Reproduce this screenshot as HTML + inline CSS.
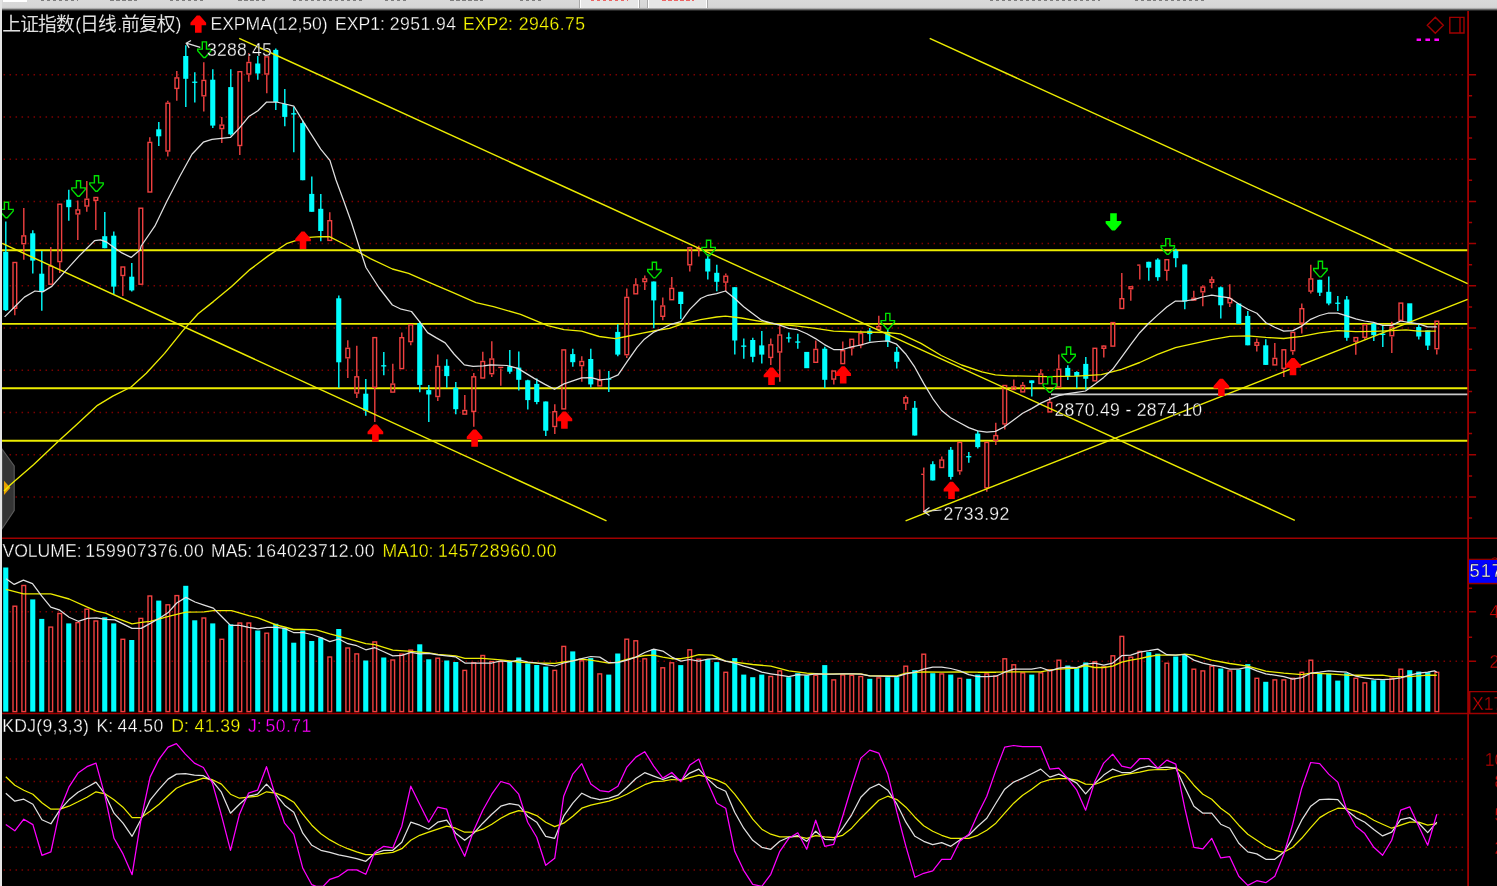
<!DOCTYPE html>
<html><head><meta charset="utf-8"><title>chart</title>
<style>
html,body{margin:0;padding:0;background:#000;}
body{width:1497px;height:886px;overflow:hidden;position:relative;font-family:"Liberation Sans",sans-serif;}
#top{position:absolute;left:0;top:0;width:1497px;height:12px;background:linear-gradient(#DADADA 0px,#D6D6D6 7.4px,#A8A8A8 8.6px,#505050 9.8px,#141414 10.8px,#000 11.4px);}
#top b{position:absolute;top:0;height:7.6px;background:#E6E6E6;border-left:1.3px solid #fff;border-right:1.3px solid #fff;box-shadow:-1px 0 0 #aaa,1px 0 0 #aaa}
#top i{position:absolute;top:0;height:1.4px;opacity:.8}
#left{position:absolute;left:0;top:0;width:2px;height:886px;background:#E4E4E4;}
</style></head><body>
<div id="top">
<span style="position:absolute;left:3px;top:0;width:24px;height:1.6px;background:#fff"></span>
<b style="left:580px;width:57px"></b><b style="left:647.5px;width:57px"></b>
<i style="left:41px;width:37px;background:repeating-linear-gradient(90deg,#666 0 3.5px,transparent 3.5px 6px)"></i><i style="left:110px;width:30px;background:repeating-linear-gradient(90deg,#666 0 3.5px,transparent 3.5px 6px)"></i><i style="left:170px;width:35px;background:repeating-linear-gradient(90deg,#666 0 3.5px,transparent 3.5px 6px)"></i><i style="left:238px;width:27px;background:repeating-linear-gradient(90deg,#666 0 3.5px,transparent 3.5px 6px)"></i><i style="left:293px;width:70px;background:repeating-linear-gradient(90deg,#666 0 3.5px,transparent 3.5px 6px)"></i><i style="left:385px;width:23px;background:repeating-linear-gradient(90deg,#666 0 3.5px,transparent 3.5px 6px)"></i><i style="left:450px;width:33px;background:repeating-linear-gradient(90deg,#666 0 3.5px,transparent 3.5px 6px)"></i><i style="left:520px;width:23px;background:repeating-linear-gradient(90deg,#666 0 3.5px,transparent 3.5px 6px)"></i><i style="left:591px;width:37px;background:repeating-linear-gradient(90deg,#e44 0 3.5px,transparent 3.5px 6px)"></i><i style="left:662px;width:32px;background:repeating-linear-gradient(90deg,#e44 0 3.5px,transparent 3.5px 6px)"></i><i style="left:990px;width:110px;background:repeating-linear-gradient(90deg,#666 0 3.5px,transparent 3.5px 6px)"></i><i style="left:1135px;width:70px;background:repeating-linear-gradient(90deg,#666 0 3.5px,transparent 3.5px 6px)"></i>
</div>
<svg width="1497" height="886" viewBox="0 0 1497 886" style="position:absolute;left:0;top:0;will-change:transform">
<g stroke="#7C0000" stroke-width="1.5" stroke-dasharray="1.5 4.5" fill="none">
<path d="M3.55 74.7 H1464"/>
<path d="M3.55 116.9 H1464"/>
<path d="M3.55 159.2 H1464"/>
<path d="M3.55 201.4 H1464"/>
<path d="M3.55 243.6 H1464"/>
<path d="M3.55 285.8 H1464"/>
<path d="M3.55 328.1 H1464"/>
<path d="M3.55 370.3 H1464"/>
<path d="M3.55 412.5 H1464"/>
<path d="M3.55 454.8 H1464"/>
<path d="M3.55 497 H1464"/>
<path d="M3.55 611.8 H1464"/>
<path d="M3.55 661.3 H1464"/>
<path d="M3.55 759.1 H1464"/>
<path d="M3.55 781.5 H1464"/>
<path d="M3.55 814.6 H1464"/>
<path d="M3.55 847.3 H1464"/>
<path d="M3.55 869.9 H1464"/>
</g>
<rect x="1053.5" y="401.5" width="150.5" height="17.5" fill="#000"/>
<g stroke="#A00000" fill="none">
<path d="M1468.1 11 V886" stroke-width="1.8"/>
<path d="M2 538.3 H1497 M2 713.6 H1497" stroke-width="1.5"/>
<path d="M1468.1 74.7 h8 M1468.1 95.8 h4 M1468.1 116.9 h8 M1468.1 138 h4 M1468.1 159.2 h8 M1468.1 180.3 h4 M1468.1 201.4 h8 M1468.1 222.5 h4 M1468.1 243.6 h8 M1468.1 264.7 h4 M1468.1 285.8 h8 M1468.1 306.9 h4 M1468.1 328.1 h8 M1468.1 349.2 h4 M1468.1 370.3 h8 M1468.1 391.4 h4 M1468.1 412.5 h8 M1468.1 433.6 h4 M1468.1 454.8 h8 M1468.1 475.9 h4 M1468.1 497 h8 M1468.1 518.1 h4 M1468.1 611.8 h8 M1468.1 661.3 h8 M1468.1 588.2 h4 M1468.1 637.3 h4" stroke-width="1.5"/>
<path d="M1435.3 17.2 L1443.3 25.2 L1435.3 33.2 L1427.3 25.2 Z M1449.8 17.4 H1464 V33 H1449.8 Z M1460 17.4 V33" stroke-width="1.4"/>
<path d="M1497 691.6 H1469.7 V713" stroke-width="1.4"/>
</g>
<path d="M1416.6 39.7 h4.4 m4.4 0 h4.6 m4.4 0 h4.6" stroke="#FF00FF" stroke-width="2.6" fill="none"/>
<path d="M2 449 L14.2 466 V510.5 L2 529 Z" fill="#343434" stroke="#5C5C5C" stroke-width="1.1"/>
<path d="M4 480.8 L10.4 487.8 L4 495 Z" fill="#E8A000"/>
<g stroke="#ECEC00" stroke-width="1.9" fill="none">
<path d="M2 250.2 H1467.3"/>
<path d="M2 323.9 H1467.3"/>
<path d="M2 388.3 H1467.3"/>
<path d="M2 440.8 H1467.3"/>
</g>
<path d="M1051 394.4 H1467.3" stroke="#C8C8C8" stroke-width="1.7" fill="none"/>
<g fill="none"><path d="M5.8 221.6 V311" stroke="#00FFFF" stroke-width="1.4"/><rect x="3.2" y="251.9" width="5.1" height="58.3" fill="#00FFFF"/><path d="M14.8 309 V315.2" stroke="#F04040" stroke-width="1.4"/><rect x="13" y="262.5" width="3.7" height="45.8" fill="none" stroke="#F04040" stroke-width="1.4"/><path d="M23.8 207.9 V235.2M23.8 244.4 V259.8" stroke="#F04040" stroke-width="1.4"/><rect x="21.9" y="235.9" width="3.7" height="7.8" fill="none" stroke="#F04040" stroke-width="1.4"/><path d="M32.8 230.3 V273.5" stroke="#00FFFF" stroke-width="1.4"/><rect x="30.2" y="233.3" width="5.1" height="27.3" fill="#00FFFF"/><path d="M41.8 251.1 V310.7" stroke="#00FFFF" stroke-width="1.4"/><rect x="39.2" y="273.7" width="5.1" height="17.9" fill="#00FFFF"/><path d="M50.8 246.9 V265.5" stroke="#F04040" stroke-width="1.4"/><rect x="48.9" y="266.2" width="3.7" height="18" fill="none" stroke="#F04040" stroke-width="1.4"/><path d="M59.8 262.3 V273" stroke="#F04040" stroke-width="1.4"/><rect x="57.9" y="204.2" width="3.7" height="57.4" fill="none" stroke="#F04040" stroke-width="1.4"/><path d="M68.8 189.8 V220.8" stroke="#00FFFF" stroke-width="1.4"/><rect x="66.2" y="199.7" width="5.1" height="7.5" fill="#00FFFF"/><path d="M77.8 200.5 V209.2M77.8 214.6 V240" stroke="#F04040" stroke-width="1.4"/><rect x="76" y="209.9" width="3.7" height="4" fill="none" stroke="#F04040" stroke-width="1.4"/><path d="M86.8 181.1 V198.5M86.8 206.7 V211.7" stroke="#F04040" stroke-width="1.4"/><rect x="85" y="199.2" width="3.7" height="6.8" fill="none" stroke="#F04040" stroke-width="1.4"/><path d="M95.8 201 V230" stroke="#F04040" stroke-width="1.4"/><rect x="94" y="197.5" width="3.7" height="2.8" fill="none" stroke="#F04040" stroke-width="1.4"/><path d="M104.8 212.1 V248.2" stroke="#00FFFF" stroke-width="1.4"/><rect x="102.2" y="236.2" width="5.1" height="12" fill="#00FFFF"/><path d="M113.8 231.5 V294.1" stroke="#00FFFF" stroke-width="1.4"/><rect x="111.2" y="235.7" width="5.1" height="50.9" fill="#00FFFF"/><path d="M122.8 276.2 V296.1" stroke="#F04040" stroke-width="1.4"/><rect x="121" y="267" width="3.7" height="8.5" fill="none" stroke="#F04040" stroke-width="1.4"/><path d="M131.8 263.1 V291.6" stroke="#00FFFF" stroke-width="1.4"/><rect x="129.2" y="276.7" width="5.1" height="13.7" fill="#00FFFF"/><rect x="139" y="208.2" width="3.7" height="76" fill="none" stroke="#F04040" stroke-width="1.4"/><path d="M149.8 137.3 V141.7" stroke="#F04040" stroke-width="1.4"/><rect x="148" y="142.4" width="3.7" height="49.6" fill="none" stroke="#F04040" stroke-width="1.4"/><path d="M158.8 121.9 V146" stroke="#00FFFF" stroke-width="1.4"/><rect x="156.2" y="129.3" width="5.1" height="7" fill="#00FFFF"/><path d="M167.8 100.8 V102.5M167.8 151.7 V156.6" stroke="#F04040" stroke-width="1.4"/><rect x="166" y="103.2" width="3.7" height="47.8" fill="none" stroke="#F04040" stroke-width="1.4"/><path d="M176.8 71 V77.2M176.8 89.1 V100.8" stroke="#F04040" stroke-width="1.4"/><rect x="175" y="77.9" width="3.7" height="10.5" fill="none" stroke="#F04040" stroke-width="1.4"/><path d="M185.8 45.3 V107" stroke="#00FFFF" stroke-width="1.4"/><rect x="183.2" y="56" width="5.1" height="22.8" fill="#00FFFF"/><path d="M194.8 72.2 V102.5" stroke="#00FFFF" stroke-width="1.4"/><rect x="192.2" y="81.6" width="5.1" height="1.3" fill="#00FFFF"/><path d="M203.8 62.3 V79.7M203.8 96.5 V111.4" stroke="#F04040" stroke-width="1.4"/><rect x="202" y="80.4" width="3.7" height="15.4" fill="none" stroke="#F04040" stroke-width="1.4"/><path d="M212.8 69.2 V128.1" stroke="#00FFFF" stroke-width="1.4"/><rect x="210.2" y="79.7" width="5.1" height="45.9" fill="#00FFFF"/><path d="M221.8 116.9 V124.4M221.8 129.3 V143" stroke="#F04040" stroke-width="1.4"/><rect x="220" y="125.1" width="3.7" height="3.5" fill="none" stroke="#F04040" stroke-width="1.4"/><path d="M230.8 69.2 V135.5" stroke="#00FFFF" stroke-width="1.4"/><rect x="228.2" y="87.1" width="5.1" height="47.2" fill="#00FFFF"/><path d="M239.8 146.2 V154.9" stroke="#F04040" stroke-width="1.4"/><rect x="238" y="71.7" width="3.7" height="73.8" fill="none" stroke="#F04040" stroke-width="1.4"/><path d="M248.8 53.1 V61.8M248.8 74.7 V81.7" stroke="#F04040" stroke-width="1.4"/><rect x="247" y="62.5" width="3.7" height="11.5" fill="none" stroke="#F04040" stroke-width="1.4"/><path d="M257.8 56.1 V79.7" stroke="#00FFFF" stroke-width="1.4"/><rect x="255.2" y="63.5" width="5.1" height="10" fill="#00FFFF"/><path d="M266.8 54.8 V56.1M266.8 74.7 V93.3" stroke="#F04040" stroke-width="1.4"/><rect x="264.9" y="56.8" width="3.7" height="17.2" fill="none" stroke="#F04040" stroke-width="1.4"/><path d="M275.8 48.6 V110" stroke="#00FFFF" stroke-width="1.4"/><rect x="273.2" y="49.9" width="5.1" height="52.1" fill="#00FFFF"/><path d="M284.8 89.1 V126.3" stroke="#00FFFF" stroke-width="1.4"/><rect x="282.2" y="104" width="5.1" height="12.9" fill="#00FFFF"/><path d="M293.8 107 V152.2" stroke="#00FFFF" stroke-width="1.4"/><rect x="291.2" y="113.2" width="5.1" height="1.3" fill="#00FFFF"/><path d="M302.8 120.6 V180.2" stroke="#00FFFF" stroke-width="1.4"/><rect x="300.2" y="123.1" width="5.1" height="57.1" fill="#00FFFF"/><path d="M311.8 176.5 V211.8" stroke="#00FFFF" stroke-width="1.4"/><rect x="309.2" y="193.9" width="5.1" height="17.9" fill="#00FFFF"/><path d="M320.8 193.9 V241.3" stroke="#00FFFF" stroke-width="1.4"/><rect x="318.2" y="208.8" width="5.1" height="22.2" fill="#00FFFF"/><path d="M329.8 212.3 V220" stroke="#F04040" stroke-width="1.4"/><rect x="327.9" y="220.7" width="3.7" height="19.7" fill="none" stroke="#F04040" stroke-width="1.4"/><path d="M338.8 295.4 V387.8" stroke="#00FFFF" stroke-width="1.4"/><rect x="336.2" y="298.3" width="5.1" height="64" fill="#00FFFF"/><path d="M347.8 340.3 V347.6M347.8 358.5 V378.1" stroke="#F04040" stroke-width="1.4"/><rect x="345.9" y="348.3" width="3.7" height="9.5" fill="none" stroke="#F04040" stroke-width="1.4"/><path d="M356.8 345.8 V376.1M356.8 393.7 V398.1" stroke="#F04040" stroke-width="1.4"/><rect x="354.9" y="376.8" width="3.7" height="16.2" fill="none" stroke="#F04040" stroke-width="1.4"/><path d="M365.8 379 V415.7" stroke="#00FFFF" stroke-width="1.4"/><rect x="363.2" y="393.7" width="5.1" height="17" fill="#00FFFF"/><path d="M374.8 388 V422" stroke="#F04040" stroke-width="1.4"/><rect x="372.9" y="337.6" width="3.7" height="49.7" fill="none" stroke="#F04040" stroke-width="1.4"/><path d="M383.8 352 V375.2" stroke="#00FFFF" stroke-width="1.4"/><rect x="381.2" y="365.2" width="5.1" height="1.3" fill="#00FFFF"/><path d="M392.8 363.7 V383.4" stroke="#F04040" stroke-width="1.4"/><rect x="390.9" y="384.1" width="3.7" height="8" fill="none" stroke="#F04040" stroke-width="1.4"/><path d="M401.8 332.6 V337" stroke="#F04040" stroke-width="1.4"/><rect x="399.9" y="337.7" width="3.7" height="30.9" fill="none" stroke="#F04040" stroke-width="1.4"/><path d="M410.8 342.3 V345.2" stroke="#F04040" stroke-width="1.4"/><rect x="408.9" y="324.8" width="3.7" height="16.8" fill="none" stroke="#F04040" stroke-width="1.4"/><path d="M419.8 321.2 V392.2" stroke="#00FFFF" stroke-width="1.4"/><rect x="417.2" y="323.2" width="5.1" height="61.7" fill="#00FFFF"/><path d="M428.8 384.9 V422.1" stroke="#00FFFF" stroke-width="1.4"/><rect x="426.2" y="390.1" width="5.1" height="4.4" fill="#00FFFF"/><path d="M437.8 354.6 V365.8M437.8 397.2 V401" stroke="#F04040" stroke-width="1.4"/><rect x="435.9" y="366.5" width="3.7" height="30" fill="none" stroke="#F04040" stroke-width="1.4"/><path d="M446.8 359.3 V387.8" stroke="#00FFFF" stroke-width="1.4"/><rect x="444.2" y="365.8" width="5.1" height="10.3" fill="#00FFFF"/><path d="M455.8 381.9 V414.2" stroke="#00FFFF" stroke-width="1.4"/><rect x="453.2" y="387.8" width="5.1" height="21.4" fill="#00FFFF"/><path d="M464.8 395.1 V409.8" stroke="#F04040" stroke-width="1.4"/><rect x="462.9" y="410.5" width="3.7" height="3.6" fill="none" stroke="#F04040" stroke-width="1.4"/><path d="M473.8 373.1 V376.1M473.8 412.1 V426.8" stroke="#F04040" stroke-width="1.4"/><rect x="471.9" y="376.8" width="3.7" height="34.6" fill="none" stroke="#F04040" stroke-width="1.4"/><path d="M482.8 351.7 V360.8" stroke="#F04040" stroke-width="1.4"/><rect x="480.9" y="361.5" width="3.7" height="16.5" fill="none" stroke="#F04040" stroke-width="1.4"/><path d="M491.8 341.3 V358.3M491.8 374.4 V377" stroke="#F04040" stroke-width="1.4"/><rect x="489.9" y="359" width="3.7" height="14.7" fill="none" stroke="#F04040" stroke-width="1.4"/><path d="M500.8 368.4 V385.8" stroke="#F04040" stroke-width="1.4"/><path d="M498.2 367.4 h5.1" stroke="#F04040" stroke-width="1.4"/><path d="M509.8 350 V373.8" stroke="#00FFFF" stroke-width="1.4"/><rect x="507.2" y="366.3" width="5.1" height="5.4" fill="#00FFFF"/><path d="M518.8 351.4 V390.6" stroke="#00FFFF" stroke-width="1.4"/><rect x="516.2" y="367.6" width="5.1" height="12.2" fill="#00FFFF"/><path d="M527.8 379.8 V409.6" stroke="#00FFFF" stroke-width="1.4"/><rect x="525.2" y="380.3" width="5.1" height="19.8" fill="#00FFFF"/><path d="M536.8 378.4 V404.2" stroke="#00FFFF" stroke-width="1.4"/><rect x="534.2" y="383.9" width="5.1" height="18.1" fill="#00FFFF"/><path d="M545.8 401.5 V435.9" stroke="#00FFFF" stroke-width="1.4"/><rect x="543.2" y="401.5" width="5.1" height="29.2" fill="#00FFFF"/><path d="M554.8 404.2 V411M554.8 427.2 V434" stroke="#F04040" stroke-width="1.4"/><rect x="552.9" y="411.7" width="3.7" height="14.8" fill="none" stroke="#F04040" stroke-width="1.4"/><rect x="561.9" y="349.9" width="3.7" height="59" fill="none" stroke="#F04040" stroke-width="1.4"/><path d="M572.8 348.7 V366.8" stroke="#00FFFF" stroke-width="1.4"/><rect x="570.2" y="354.1" width="5.1" height="8.1" fill="#00FFFF"/><path d="M581.8 356.2 V360.8M581.8 366.3 V381.7" stroke="#F04040" stroke-width="1.4"/><rect x="579.9" y="361.5" width="3.7" height="4.1" fill="none" stroke="#F04040" stroke-width="1.4"/><path d="M590.8 348.7 V387.4" stroke="#00FFFF" stroke-width="1.4"/><rect x="588.2" y="359" width="5.1" height="25.4" fill="#00FFFF"/><path d="M599.8 369.5 V379.8" stroke="#F04040" stroke-width="1.4"/><rect x="597.9" y="380.5" width="3.7" height="5.4" fill="none" stroke="#F04040" stroke-width="1.4"/><path d="M608.8 371.1 V392" stroke="#00FFFF" stroke-width="1.4"/><rect x="606.2" y="378.5" width="5.1" height="1.3" fill="#00FFFF"/><path d="M617.8 324.3 V356.2" stroke="#00FFFF" stroke-width="1.4"/><rect x="615.2" y="331.9" width="5.1" height="22.7" fill="#00FFFF"/><path d="M626.8 288.5 V296.7M626.8 355.4 V358.1" stroke="#F04040" stroke-width="1.4"/><rect x="624.9" y="297.4" width="3.7" height="57.3" fill="none" stroke="#F04040" stroke-width="1.4"/><path d="M635.8 278.2 V284.2" stroke="#F04040" stroke-width="1.4"/><rect x="633.9" y="284.9" width="3.7" height="8.9" fill="none" stroke="#F04040" stroke-width="1.4"/><path d="M644.8 275.5 V278.2M644.8 282.3 V289.9" stroke="#F04040" stroke-width="1.4"/><rect x="642.9" y="278.9" width="3.7" height="2.7" fill="none" stroke="#F04040" stroke-width="1.4"/><path d="M653.8 281.5 V328.3" stroke="#00FFFF" stroke-width="1.4"/><rect x="651.2" y="281.5" width="5.1" height="18.9" fill="#00FFFF"/><path d="M662.8 297.6 V305.3M662.8 317 V320.2" stroke="#F04040" stroke-width="1.4"/><rect x="660.9" y="306" width="3.7" height="10.3" fill="none" stroke="#F04040" stroke-width="1.4"/><path d="M671.8 276.9 V287.7" stroke="#F04040" stroke-width="1.4"/><rect x="669.9" y="288.4" width="3.7" height="11.3" fill="none" stroke="#F04040" stroke-width="1.4"/><path d="M680.8 291.8 V318.9" stroke="#00FFFF" stroke-width="1.4"/><rect x="678.2" y="291.8" width="5.1" height="12.2" fill="#00FFFF"/><path d="M689.8 265.5 V271.5" stroke="#F04040" stroke-width="1.4"/><rect x="687.9" y="247.8" width="3.7" height="17" fill="none" stroke="#F04040" stroke-width="1.4"/><path d="M698.8 245.7 V247.9M698.8 249.1 V256.6" stroke="#F04040" stroke-width="1.4"/><path d="M696.2 248.5 h5.1" stroke="#F04040" stroke-width="1.4"/><path d="M707.8 253.9 V279.6" stroke="#00FFFF" stroke-width="1.4"/><rect x="705.2" y="258.7" width="5.1" height="12.8" fill="#00FFFF"/><path d="M716.8 264.7 V291.2" stroke="#00FFFF" stroke-width="1.4"/><rect x="714.2" y="272.8" width="5.1" height="9" fill="#00FFFF"/><path d="M725.8 273.6 V275.5M725.8 282.8 V291" stroke="#F04040" stroke-width="1.4"/><rect x="723.9" y="276.2" width="3.7" height="5.9" fill="none" stroke="#F04040" stroke-width="1.4"/><path d="M734.8 287.2 V354.6" stroke="#00FFFF" stroke-width="1.4"/><rect x="732.2" y="287.2" width="5.1" height="53.3" fill="#00FFFF"/><path d="M743.8 338.4 V358.7" stroke="#00FFFF" stroke-width="1.4"/><rect x="741.2" y="345.5" width="5.1" height="1.3" fill="#00FFFF"/><path d="M752.8 337.8 V362.2" stroke="#00FFFF" stroke-width="1.4"/><rect x="750.2" y="340" width="5.1" height="16.8" fill="#00FFFF"/><path d="M761.8 331.1 V363.6" stroke="#00FFFF" stroke-width="1.4"/><rect x="759.2" y="345.4" width="5.1" height="9.2" fill="#00FFFF"/><path d="M770.8 338.4 V344.1M770.8 358.1 V364.9" stroke="#F04040" stroke-width="1.4"/><rect x="768.9" y="344.8" width="3.7" height="12.6" fill="none" stroke="#F04040" stroke-width="1.4"/><path d="M779.8 325.6 V334.3M779.8 352.7 V381.7" stroke="#F04040" stroke-width="1.4"/><rect x="777.9" y="335" width="3.7" height="17" fill="none" stroke="#F04040" stroke-width="1.4"/><path d="M788.8 332.4 V342.4" stroke="#00FFFF" stroke-width="1.4"/><rect x="786.2" y="337.3" width="5.1" height="1.3" fill="#00FFFF"/><path d="M797.8 333.8 V348.7" stroke="#00FFFF" stroke-width="1.4"/><rect x="795.2" y="341.4" width="5.1" height="1.3" fill="#00FFFF"/><rect x="804.2" y="351.9" width="5.1" height="16.3" fill="#00FFFF"/><path d="M815.8 340.5 V348.7" stroke="#F04040" stroke-width="1.4"/><rect x="813.9" y="349.4" width="3.7" height="12.9" fill="none" stroke="#F04040" stroke-width="1.4"/><path d="M824.8 346.8 V387.9" stroke="#00FFFF" stroke-width="1.4"/><rect x="822.2" y="348.7" width="5.1" height="31.1" fill="#00FFFF"/><path d="M833.8 379.8 V384.4" stroke="#F04040" stroke-width="1.4"/><rect x="831.9" y="371" width="3.7" height="8.1" fill="none" stroke="#F04040" stroke-width="1.4"/><path d="M842.8 341.4 V350" stroke="#F04040" stroke-width="1.4"/><rect x="840.9" y="350.7" width="3.7" height="12.9" fill="none" stroke="#F04040" stroke-width="1.4"/><path d="M851.8 348.5 V355.6" stroke="#F04040" stroke-width="1.4"/><rect x="849.9" y="339.3" width="3.7" height="8.5" fill="none" stroke="#F04040" stroke-width="1.4"/><path d="M860.8 330.6 V332.8M860.8 345.5 V348.2" stroke="#F04040" stroke-width="1.4"/><rect x="858.9" y="333.5" width="3.7" height="11.3" fill="none" stroke="#F04040" stroke-width="1.4"/><path d="M869.8 327.9 V341.5" stroke="#00FFFF" stroke-width="1.4"/><rect x="867.2" y="330.6" width="5.1" height="3.5" fill="#00FFFF"/><path d="M878.8 315.7 V326" stroke="#F04040" stroke-width="1.4"/><rect x="876.9" y="326.7" width="3.7" height="2.6" fill="none" stroke="#F04040" stroke-width="1.4"/><path d="M887.8 329.3 V346.9" stroke="#00FFFF" stroke-width="1.4"/><rect x="885.2" y="333.3" width="5.1" height="8.2" fill="#00FFFF"/><path d="M896.8 346.9 V368.5" stroke="#00FFFF" stroke-width="1.4"/><rect x="894.2" y="351.8" width="5.1" height="10" fill="#00FFFF"/><path d="M905.8 395.6 V397M905.8 403.8 V410" stroke="#F04040" stroke-width="1.4"/><rect x="903.9" y="397.7" width="3.7" height="5.4" fill="none" stroke="#F04040" stroke-width="1.4"/><path d="M914.8 401 V435.5" stroke="#00FFFF" stroke-width="1.4"/><rect x="912.2" y="407.8" width="5.1" height="27.7" fill="#00FFFF"/><path d="M923.8 467.4 V473.7M923.8 474.9 V512.6" stroke="#F04040" stroke-width="1.4"/><path d="M921.2 474.3 h3.2" stroke="#F04040" stroke-width="1.4"/><path d="M932.8 461.2 V480.4" stroke="#00FFFF" stroke-width="1.4"/><rect x="930.2" y="464.2" width="5.1" height="16.2" fill="#00FFFF"/><path d="M941.8 456.6 V459.3" stroke="#F04040" stroke-width="1.4"/><rect x="939.9" y="460" width="3.7" height="7.5" fill="none" stroke="#F04040" stroke-width="1.4"/><path d="M950.8 447.1 V479.6" stroke="#00FFFF" stroke-width="1.4"/><rect x="948.2" y="449.8" width="5.1" height="27.1" fill="#00FFFF"/><path d="M959.8 471.5 V474.7" stroke="#F04040" stroke-width="1.4"/><rect x="957.9" y="442.4" width="3.7" height="28.4" fill="none" stroke="#F04040" stroke-width="1.4"/><path d="M968.8 452 V462.8" stroke="#00FFFF" stroke-width="1.4"/><rect x="966.2" y="456.1" width="5.1" height="1.3" fill="#00FFFF"/><path d="M977.8 430.8 V448.4" stroke="#00FFFF" stroke-width="1.4"/><rect x="975.2" y="433.6" width="5.1" height="13.5" fill="#00FFFF"/><path d="M986.8 488.5 V491.8" stroke="#F04040" stroke-width="1.4"/><rect x="984.9" y="442.4" width="3.7" height="45.4" fill="none" stroke="#F04040" stroke-width="1.4"/><path d="M995.8 422.7 V434.9M995.8 441.1 V444.9" stroke="#F04040" stroke-width="1.4"/><rect x="993.9" y="435.6" width="3.7" height="4.8" fill="none" stroke="#F04040" stroke-width="1.4"/><path d="M1004.8 424.6 V429.5" stroke="#F04040" stroke-width="1.4"/><rect x="1002.9" y="385.5" width="3.7" height="38.4" fill="none" stroke="#F04040" stroke-width="1.4"/><path d="M1013.8 379.4 V386.2" stroke="#F04040" stroke-width="1.4"/><rect x="1011.9" y="386.9" width="3.7" height="2.6" fill="none" stroke="#F04040" stroke-width="1.4"/><path d="M1022.8 382.1 V384.8" stroke="#F04040" stroke-width="1.4"/><rect x="1020.9" y="385.5" width="3.7" height="6.4" fill="none" stroke="#F04040" stroke-width="1.4"/><path d="M1031.8 380.4 V396.4" stroke="#00FFFF" stroke-width="1.4"/><rect x="1029.2" y="380.4" width="5.1" height="2.7" fill="#00FFFF"/><path d="M1040.8 369.3 V373.3" stroke="#F04040" stroke-width="1.4"/><rect x="1039" y="374" width="3.7" height="9.5" fill="none" stroke="#F04040" stroke-width="1.4"/><path d="M1049.8 397.2 V401.8" stroke="#F04040" stroke-width="1.4"/><rect x="1048" y="402.5" width="3.7" height="9.4" fill="none" stroke="#F04040" stroke-width="1.4"/><path d="M1058.8 354.4 V368.5" stroke="#F04040" stroke-width="1.4"/><rect x="1057" y="369.2" width="3.7" height="17.8" fill="none" stroke="#F04040" stroke-width="1.4"/><path d="M1067.8 365.2 V380.1" stroke="#00FFFF" stroke-width="1.4"/><rect x="1065.2" y="367.9" width="5.1" height="8.2" fill="#00FFFF"/><path d="M1076.8 371.2 V388.2" stroke="#00FFFF" stroke-width="1.4"/><rect x="1074.2" y="372" width="5.1" height="4.1" fill="#00FFFF"/><path d="M1085.8 357.1 V389.6" stroke="#00FFFF" stroke-width="1.4"/><rect x="1083.2" y="363.9" width="5.1" height="14.9" fill="#00FFFF"/><rect x="1093" y="348.3" width="3.7" height="32.5" fill="none" stroke="#F04040" stroke-width="1.4"/><path d="M1103.8 344.9 V345.4M1103.8 349 V357.6" stroke="#F04040" stroke-width="1.4"/><rect x="1102" y="346.1" width="3.7" height="2.2" fill="none" stroke="#F04040" stroke-width="1.4"/><rect x="1111" y="322.6" width="3.7" height="23.5" fill="none" stroke="#F04040" stroke-width="1.4"/><path d="M1121.8 273.1 V298" stroke="#F04040" stroke-width="1.4"/><rect x="1120" y="298.7" width="3.7" height="9.8" fill="none" stroke="#F04040" stroke-width="1.4"/><path d="M1130.8 289.4 V300.8" stroke="#F04040" stroke-width="1.4"/><rect x="1129" y="286.8" width="3.7" height="1.9" fill="none" stroke="#F04040" stroke-width="1.4"/><path d="M1139.8 265.7 V279.4" stroke="#F04040" stroke-width="1.4"/><path d="M1137.2 265.1 h3.2" stroke="#F04040" stroke-width="1.4"/><path d="M1148.8 261.8 V280.7" stroke="#00FFFF" stroke-width="1.4"/><rect x="1146.2" y="261.8" width="5.1" height="5.9" fill="#00FFFF"/><path d="M1157.8 258.2 V280.7" stroke="#00FFFF" stroke-width="1.4"/><rect x="1155.2" y="259.6" width="5.1" height="17.6" fill="#00FFFF"/><path d="M1166.8 271 V280.7" stroke="#F04040" stroke-width="1.4"/><rect x="1165" y="259.7" width="3.7" height="10.6" fill="none" stroke="#F04040" stroke-width="1.4"/><path d="M1175.8 248.8 V267.2" stroke="#00FFFF" stroke-width="1.4"/><rect x="1173.2" y="250.9" width="5.1" height="7.3" fill="#00FFFF"/><path d="M1184.8 264.5 V309.2" stroke="#00FFFF" stroke-width="1.4"/><rect x="1182.2" y="264.5" width="5.1" height="37.1" fill="#00FFFF"/><path d="M1193.8 290.7 V297.5" stroke="#F04040" stroke-width="1.4"/><rect x="1192" y="298.2" width="3.7" height="1.9" fill="none" stroke="#F04040" stroke-width="1.4"/><path d="M1202.8 285.3 V286.4M1202.8 292.5 V306.2" stroke="#F04040" stroke-width="1.4"/><rect x="1201" y="287.1" width="3.7" height="4.7" fill="none" stroke="#F04040" stroke-width="1.4"/><path d="M1211.8 276.5 V279.1M1211.8 283 V288.2" stroke="#F04040" stroke-width="1.4"/><rect x="1210" y="279.8" width="3.7" height="2.5" fill="none" stroke="#F04040" stroke-width="1.4"/><path d="M1220.8 286.6 V318.6" stroke="#00FFFF" stroke-width="1.4"/><rect x="1218.2" y="287.3" width="5.1" height="18" fill="#00FFFF"/><path d="M1229.8 284.3 V297.9M1229.8 303.5 V306.9" stroke="#F04040" stroke-width="1.4"/><rect x="1228" y="298.6" width="3.7" height="4.2" fill="none" stroke="#F04040" stroke-width="1.4"/><rect x="1236.2" y="303.5" width="5.1" height="20.3" fill="#00FFFF"/><path d="M1247.8 311 V345.3" stroke="#00FFFF" stroke-width="1.4"/><rect x="1245.2" y="315.9" width="5.1" height="29.4" fill="#00FFFF"/><path d="M1256.8 338.5 V341.9M1256.8 346 V351.6" stroke="#F04040" stroke-width="1.4"/><rect x="1255" y="342.6" width="3.7" height="2.7" fill="none" stroke="#F04040" stroke-width="1.4"/><path d="M1265.8 339.2 V364.9" stroke="#00FFFF" stroke-width="1.4"/><rect x="1263.2" y="345.3" width="5.1" height="19.6" fill="#00FFFF"/><path d="M1274.8 343 V357.7" stroke="#F04040" stroke-width="1.4"/><rect x="1273" y="358.4" width="3.7" height="6.5" fill="none" stroke="#F04040" stroke-width="1.4"/><path d="M1283.8 369 V376.9" stroke="#F04040" stroke-width="1.4"/><rect x="1282" y="349.8" width="3.7" height="18.5" fill="none" stroke="#F04040" stroke-width="1.4"/><path d="M1292.8 351.4 V354.8" stroke="#F04040" stroke-width="1.4"/><rect x="1291" y="332.4" width="3.7" height="18.3" fill="none" stroke="#F04040" stroke-width="1.4"/><path d="M1301.8 303.5 V308M1301.8 323.8 V333.5" stroke="#F04040" stroke-width="1.4"/><rect x="1300" y="308.7" width="3.7" height="14.4" fill="none" stroke="#F04040" stroke-width="1.4"/><path d="M1310.8 264.7 V278.2M1310.8 291.8 V293.4" stroke="#F04040" stroke-width="1.4"/><rect x="1309" y="278.9" width="3.7" height="12.2" fill="none" stroke="#F04040" stroke-width="1.4"/><path d="M1319.8 279.8 V296.1" stroke="#00FFFF" stroke-width="1.4"/><rect x="1317.2" y="279.8" width="5.1" height="12.9" fill="#00FFFF"/><path d="M1328.8 276.4 V305.3" stroke="#00FFFF" stroke-width="1.4"/><rect x="1326.2" y="291.8" width="5.1" height="11.7" fill="#00FFFF"/><path d="M1337.8 296.1 V311" stroke="#00FFFF" stroke-width="1.4"/><rect x="1335.2" y="302.6" width="5.1" height="1.3" fill="#00FFFF"/><path d="M1346.8 296.1 V340.8" stroke="#00FFFF" stroke-width="1.4"/><rect x="1344.2" y="299.5" width="5.1" height="38.3" fill="#00FFFF"/><path d="M1355.8 341.9 V354.8" stroke="#F04040" stroke-width="1.4"/><rect x="1354" y="337.6" width="3.7" height="3.6" fill="none" stroke="#F04040" stroke-width="1.4"/><path d="M1364.8 338 V339.4" stroke="#F04040" stroke-width="1.4"/><rect x="1363" y="324.7" width="3.7" height="12.6" fill="none" stroke="#F04040" stroke-width="1.4"/><path d="M1373.8 322.7 V340.9" stroke="#00FFFF" stroke-width="1.4"/><rect x="1371.2" y="323.7" width="5.1" height="11.5" fill="#00FFFF"/><path d="M1382.8 325.5 V346.9" stroke="#00FFFF" stroke-width="1.4"/><rect x="1380.2" y="333.7" width="5.1" height="1.3" fill="#00FFFF"/><path d="M1391.8 321.8 V326.4M1391.8 336.4 V353" stroke="#F04040" stroke-width="1.4"/><rect x="1390" y="327.1" width="3.7" height="8.6" fill="none" stroke="#F04040" stroke-width="1.4"/><rect x="1399" y="303.1" width="3.7" height="17.2" fill="none" stroke="#F04040" stroke-width="1.4"/><rect x="1407.2" y="303.3" width="5.1" height="19.7" fill="#00FFFF"/><path d="M1418.8 324.7 V339.6" stroke="#00FFFF" stroke-width="1.4"/><rect x="1416.2" y="327" width="5.1" height="9.5" fill="#00FFFF"/><path d="M1427.8 330.4 V350.1" stroke="#00FFFF" stroke-width="1.4"/><rect x="1425.2" y="330.4" width="5.1" height="15.2" fill="#00FFFF"/><path d="M1436.8 349.4 V354.4" stroke="#F04040" stroke-width="1.4"/><rect x="1435" y="321.2" width="3.7" height="27.5" fill="none" stroke="#F04040" stroke-width="1.4"/></g>
<g stroke="#ECEC00" stroke-width="1.45" fill="none">
<path d="M239.2 38.4 L1294.8 520.3"/>
<path d="M2.2 243.4 L606.5 520.8"/>
<path d="M929.7 38.4 L1467.6 283.6"/>
<path d="M905.6 520.8 L1467.6 299.4"/>
</g>
<polyline points="4,491 10.7,484.5 33.5,464.7 59.4,440.3 76.2,425.1 97.5,405.3 112.8,396.1 131.1,387 146.3,373.2 164.6,353.4 182.9,330.6 198.1,313.8 213.4,301.6 231.6,286.4 249.9,269.6 268.2,255.9 286.5,243.7 304.8,237.6 320.5,236.7 329.3,236.7 344,244 360.2,252.8 370.4,258.7 392.4,269 408.6,273.4 432,283.6 452.6,292.4 476,302.7 493.5,306.7 520.6,314.3 547.7,325.6 564,329.7 581.6,331.1 599.2,336.5 615.4,338.6 626.3,336.5 642.5,333.2 656.1,330.5 669.6,328.3 680.9,324.3 700.6,319.7 716.6,317 725.5,316.2 741.3,318 761.6,321.6 779.7,324.3 797.6,326.2 815.5,328.3 833.6,331.1 860,332 887,332.5 900.6,333.9 921,343.3 941.2,355.5 961.6,365 981.9,371.8 995.4,374.9 1009,375.8 1047,376.6 1076.6,376.1 1101.3,374.7 1121.6,369.3 1139.7,362.5 1157.6,354.4 1175.5,347.6 1193.6,343.6 1211.7,339.6 1229.8,336.3 1247.9,335.8 1265.9,337.4 1283.7,338.5 1301.8,336.3 1319.6,332.9 1337.7,330.6 1355.8,331.7 1373.8,331.3 1391.8,330.7 1406,329.8 1418.6,331.1 1435.8,331.1" fill="none" stroke="#ECEC00" stroke-width="1.35" stroke-linejoin="round"/>
<polyline points="4.6,316.9 15.2,306.2 24.4,297.1 35,291 42.7,291.9 51.8,286.4 64,272.7 79.2,255.9 94.5,240.7 100.6,239.8 106.7,242.2 121.9,252.9 131.1,257.4 140.2,249.8 141.2,246 154.8,226.2 167,201 179.7,176.5 192,154.2 203.3,142.2 212,139.3 230.6,137.3 239.3,128.1 249.2,116.2 257.9,110.7 266.6,102 276.5,102 285.2,104 293.9,106.2 302.6,120.6 311.3,134.3 320.7,149.2 329.9,160.4 336,180 343.4,200 351.3,222 360.2,249.9 366,267.5 379.2,288 392.4,305 401.2,309.2 411.5,311.5 420.3,322.7 427.6,332.6 436.4,337.9 445.2,342.9 454,354 464.3,364.9 473.1,366.4 483.4,365.8 490.8,364.9 507.1,365.5 517.9,368.4 534.2,378.4 545,384.4 554.5,389.3 564,383.9 581.6,377.9 591,377.6 599.7,379.8 608.7,379 618.1,374.9 627.6,360.8 637.1,347.3 644.4,339.2 653.3,332.4 662.8,328.3 670.8,324.3 680.9,321.6 689.8,309.4 700.6,298.5 707.9,295.3 716.6,293.7 725.5,291 734.8,298.5 743.7,306.7 752.6,313.4 761.6,320.2 770.5,322.9 779.7,325.1 788.7,328.3 797.6,329.7 806.8,333.8 815.5,338.6 824.4,344.6 833.6,349.5 842.6,349.5 851.6,346.9 860.9,345 869.8,342.3 878.7,341.5 887.9,340.9 896.6,344.2 905.5,353.7 914.8,367.2 923.7,383.4 932.6,398.3 941.6,410.5 950.5,417.8 959.7,422.7 968.7,427.6 977.6,430.8 986.8,432.2 995.5,431.4 1004.4,426.8 1013.6,420 1022.6,413.2 1031.6,408.6 1040.9,403.1 1049.8,399.1 1058.7,395.6 1067.9,393.7 1076.6,392.3 1085.5,391 1094.8,384.2 1103.7,377.4 1112.6,369.3 1121.6,357.1 1130.5,344.9 1139.7,332.7 1148.7,323.2 1157.6,315.1 1166.8,307 1175.5,301 1184.4,301 1193.6,299.7 1202.6,297 1211.7,295.2 1220.8,296.7 1229.8,297.9 1238.8,304 1247.9,309.2 1256.9,313.2 1265.9,322.7 1274.7,327.2 1283.7,331.1 1292.8,330.6 1301.8,326.1 1310.6,319.3 1319.6,315.5 1328.7,313 1337.7,313.2 1346.7,315.9 1355.8,318.9 1364.7,321 1373.5,322.3 1382.8,325.4 1391.8,325.4 1400.6,321 1409.7,322.6 1418.6,323.9 1427.7,326.8 1436.8,326.8" fill="none" stroke="#E0E0E0" stroke-width="1.25" stroke-linejoin="round"/>
<path d="M4.4 202.2 h4.2 v7.2 h4.6 v1.7 l-5.9 6.7 h-1.6 l-5.9 -6.7 v-1.7 h4.6 Z M76.4 180.7 h4.2 v7.2 h4.6 v1.7 l-5.9 6.7 h-1.6 l-5.9 -6.7 v-1.7 h4.6 Z M94.4 175.7 h4.2 v7.2 h4.6 v1.7 l-5.9 6.7 h-1.6 l-5.9 -6.7 v-1.7 h4.6 Z M202.3 41.9 h4.2 v7.2 h4.6 v1.7 l-5.9 6.7 h-1.6 l-5.9 -6.7 v-1.7 h4.6 Z M652.3 262.3 h4.2 v7.2 h4.6 v1.7 l-5.9 6.7 h-1.6 l-5.9 -6.7 v-1.7 h4.6 Z M706.5 240.2 h4.2 v7.2 h4.6 v1.7 l-5.9 6.7 h-1.6 l-5.9 -6.7 v-1.7 h4.6 Z M885.7 313.4 h4.2 v7.2 h4.6 v1.7 l-5.9 6.7 h-1.6 l-5.9 -6.7 v-1.7 h4.6 Z M1066.5 347 h4.2 v7.2 h4.6 v1.7 l-5.9 6.7 h-1.6 l-5.9 -6.7 v-1.7 h4.6 Z M1047.7 376.7 h4.2 v7.2 h4.6 v1.7 l-5.9 6.7 h-1.6 l-5.9 -6.7 v-1.7 h4.6 Z M1165.7 238.6 h4.2 v7.2 h4.6 v1.7 l-5.9 6.7 h-1.6 l-5.9 -6.7 v-1.7 h4.6 Z M1318.3 261.3 h4.2 v7.2 h4.6 v1.7 l-5.9 6.7 h-1.6 l-5.9 -6.7 v-1.7 h4.6 Z" fill="none" stroke="#00E000" stroke-width="1.4"/>
<path d="M1110.2 213.3 h6.6 v7.6 h4.55 v2.4 l-6.35 7.3 h-3 l-6.35 -7.3 v-2.4 h4.55 Z" fill="#00FF00"/>
<path d="M196.8 15.5 h3 l6.35 7.3 v2.4 h-4.55 v7.6 h-6.6 v-7.6 h-4.55 v-2.4 Z M301.5 231.6 h3 l6.35 7.3 v2.4 h-4.55 v7.6 h-6.6 v-7.6 h-4.55 v-2.4 Z M373.9 424.5 h3 l6.35 7.3 v2.4 h-4.55 v7.6 h-6.6 v-7.6 h-4.55 v-2.4 Z M473.1 429.5 h3 l6.35 7.3 v2.4 h-4.55 v7.6 h-6.6 v-7.6 h-4.55 v-2.4 Z M562.9 411.5 h3 l6.35 7.3 v2.4 h-4.55 v7.6 h-6.6 v-7.6 h-4.55 v-2.4 Z M770 367.6 h3 l6.35 7.3 v2.4 h-4.55 v7.6 h-6.6 v-7.6 h-4.55 v-2.4 Z M841.7 366.3 h3 l6.35 7.3 v2.4 h-4.55 v7.6 h-6.6 v-7.6 h-4.55 v-2.4 Z M950 481.8 h3 l6.35 7.3 v2.4 h-4.55 v7.6 h-6.6 v-7.6 h-4.55 v-2.4 Z M1219.9 378.7 h3 l6.35 7.3 v2.4 h-4.55 v7.6 h-6.6 v-7.6 h-4.55 v-2.4 Z M1291.5 358 h3 l6.35 7.3 v2.4 h-4.55 v7.6 h-6.6 v-7.6 h-4.55 v-2.4 Z" fill="#FF0000"/>
<g><rect x="3.2" y="567.5" width="5.1" height="144.1" fill="#00FFFF"/><rect x="13" y="606.2" width="3.7" height="105.4" fill="none" stroke="#F04040" stroke-width="1.4"/><rect x="21.9" y="585.5" width="3.7" height="126.1" fill="none" stroke="#F04040" stroke-width="1.4"/><rect x="30.2" y="599.4" width="5.1" height="112.2" fill="#00FFFF"/><rect x="39.2" y="618.9" width="5.1" height="92.7" fill="#00FFFF"/><rect x="48.9" y="627.1" width="3.7" height="84.5" fill="none" stroke="#F04040" stroke-width="1.4"/><rect x="57.9" y="613.5" width="3.7" height="98.1" fill="none" stroke="#F04040" stroke-width="1.4"/><rect x="66.2" y="623.4" width="5.1" height="88.2" fill="#00FFFF"/><rect x="76" y="622.6" width="3.7" height="89" fill="none" stroke="#F04040" stroke-width="1.4"/><rect x="85" y="609.2" width="3.7" height="102.4" fill="none" stroke="#F04040" stroke-width="1.4"/><rect x="94" y="621" width="3.7" height="90.6" fill="none" stroke="#F04040" stroke-width="1.4"/><rect x="102.2" y="617.3" width="5.1" height="94.3" fill="#00FFFF"/><rect x="111.2" y="623.4" width="5.1" height="88.2" fill="#00FFFF"/><rect x="121" y="639.3" width="3.7" height="72.3" fill="none" stroke="#F04040" stroke-width="1.4"/><rect x="129.2" y="640" width="5.1" height="71.6" fill="#00FFFF"/><rect x="139" y="618.4" width="3.7" height="93.2" fill="none" stroke="#F04040" stroke-width="1.4"/><rect x="148" y="596" width="3.7" height="115.6" fill="none" stroke="#F04040" stroke-width="1.4"/><rect x="156.2" y="600.6" width="5.1" height="111" fill="#00FFFF"/><rect x="166" y="604.8" width="3.7" height="106.8" fill="none" stroke="#F04040" stroke-width="1.4"/><rect x="175" y="595.6" width="3.7" height="116" fill="none" stroke="#F04040" stroke-width="1.4"/><rect x="183.2" y="585.8" width="5.1" height="125.8" fill="#00FFFF"/><rect x="192.2" y="620.3" width="5.1" height="91.3" fill="#00FFFF"/><rect x="202" y="618" width="3.7" height="93.6" fill="none" stroke="#F04040" stroke-width="1.4"/><rect x="210.2" y="623.4" width="5.1" height="88.2" fill="#00FFFF"/><rect x="220" y="639.3" width="3.7" height="72.3" fill="none" stroke="#F04040" stroke-width="1.4"/><rect x="228.2" y="624.4" width="5.1" height="87.2" fill="#00FFFF"/><rect x="238" y="623" width="3.7" height="88.6" fill="none" stroke="#F04040" stroke-width="1.4"/><rect x="247" y="623" width="3.7" height="88.6" fill="none" stroke="#F04040" stroke-width="1.4"/><rect x="255.2" y="630.5" width="5.1" height="81.1" fill="#00FFFF"/><rect x="264.9" y="633.2" width="3.7" height="78.4" fill="none" stroke="#F04040" stroke-width="1.4"/><rect x="273.2" y="623.8" width="5.1" height="87.8" fill="#00FFFF"/><rect x="282.2" y="628" width="5.1" height="83.6" fill="#00FFFF"/><rect x="291.2" y="642.7" width="5.1" height="68.9" fill="#00FFFF"/><rect x="300.2" y="630.5" width="5.1" height="81.1" fill="#00FFFF"/><rect x="309.2" y="641" width="5.1" height="70.6" fill="#00FFFF"/><rect x="318.2" y="637.6" width="5.1" height="74" fill="#00FFFF"/><rect x="327.9" y="657" width="3.7" height="54.6" fill="none" stroke="#F04040" stroke-width="1.4"/><rect x="336.2" y="629" width="5.1" height="82.6" fill="#00FFFF"/><rect x="345.9" y="648" width="3.7" height="63.6" fill="none" stroke="#F04040" stroke-width="1.4"/><rect x="354.9" y="653.9" width="3.7" height="57.7" fill="none" stroke="#F04040" stroke-width="1.4"/><rect x="363.2" y="660.5" width="5.1" height="51.1" fill="#00FFFF"/><rect x="372.9" y="641.9" width="3.7" height="69.7" fill="none" stroke="#F04040" stroke-width="1.4"/><rect x="381.2" y="657.5" width="5.1" height="54.1" fill="#00FFFF"/><rect x="390.9" y="660" width="3.7" height="51.6" fill="none" stroke="#F04040" stroke-width="1.4"/><rect x="399.9" y="654.1" width="3.7" height="57.5" fill="none" stroke="#F04040" stroke-width="1.4"/><rect x="408.9" y="650.1" width="3.7" height="61.5" fill="none" stroke="#F04040" stroke-width="1.4"/><rect x="417.2" y="644.3" width="5.1" height="67.3" fill="#00FFFF"/><rect x="426.2" y="659.3" width="5.1" height="52.3" fill="#00FFFF"/><rect x="435.9" y="658.2" width="3.7" height="53.4" fill="none" stroke="#F04040" stroke-width="1.4"/><rect x="444.2" y="660.5" width="5.1" height="51.1" fill="#00FFFF"/><rect x="453.2" y="662" width="5.1" height="49.6" fill="#00FFFF"/><rect x="462.9" y="670.4" width="3.7" height="41.2" fill="none" stroke="#F04040" stroke-width="1.4"/><rect x="471.9" y="662.7" width="3.7" height="48.9" fill="none" stroke="#F04040" stroke-width="1.4"/><rect x="480.9" y="655.5" width="3.7" height="56.1" fill="none" stroke="#F04040" stroke-width="1.4"/><rect x="489.9" y="661.6" width="3.7" height="50" fill="none" stroke="#F04040" stroke-width="1.4"/><rect x="498.9" y="661.6" width="3.7" height="50" fill="none" stroke="#F04040" stroke-width="1.4"/><rect x="507.2" y="661.3" width="5.1" height="50.3" fill="#00FFFF"/><rect x="516.2" y="657.5" width="5.1" height="54.1" fill="#00FFFF"/><rect x="525.2" y="663.4" width="5.1" height="48.2" fill="#00FFFF"/><rect x="534.2" y="665" width="5.1" height="46.6" fill="#00FFFF"/><rect x="543.2" y="666.6" width="5.1" height="45" fill="#00FFFF"/><rect x="552.9" y="670.4" width="3.7" height="41.2" fill="none" stroke="#F04040" stroke-width="1.4"/><rect x="561.9" y="646.4" width="3.7" height="65.2" fill="none" stroke="#F04040" stroke-width="1.4"/><rect x="570.2" y="651.4" width="5.1" height="60.2" fill="#00FFFF"/><rect x="579.9" y="660.8" width="3.7" height="50.8" fill="none" stroke="#F04040" stroke-width="1.4"/><rect x="588.2" y="658.1" width="5.1" height="53.5" fill="#00FFFF"/><rect x="597.9" y="673.9" width="3.7" height="37.7" fill="none" stroke="#F04040" stroke-width="1.4"/><rect x="606.2" y="674.6" width="5.1" height="37" fill="#00FFFF"/><rect x="615.2" y="653.5" width="5.1" height="58.1" fill="#00FFFF"/><rect x="624.9" y="639.2" width="3.7" height="72.4" fill="none" stroke="#F04040" stroke-width="1.4"/><rect x="633.9" y="640.8" width="3.7" height="70.8" fill="none" stroke="#F04040" stroke-width="1.4"/><rect x="642.9" y="658.8" width="3.7" height="52.8" fill="none" stroke="#F04040" stroke-width="1.4"/><rect x="651.2" y="649.5" width="5.1" height="62.1" fill="#00FFFF"/><rect x="660.9" y="667.8" width="3.7" height="43.8" fill="none" stroke="#F04040" stroke-width="1.4"/><rect x="669.9" y="662.8" width="3.7" height="48.8" fill="none" stroke="#F04040" stroke-width="1.4"/><rect x="678.2" y="665.1" width="5.1" height="46.5" fill="#00FFFF"/><rect x="687.9" y="649.8" width="3.7" height="61.8" fill="none" stroke="#F04040" stroke-width="1.4"/><rect x="696.9" y="659.2" width="3.7" height="52.4" fill="none" stroke="#F04040" stroke-width="1.4"/><rect x="705.2" y="659.1" width="5.1" height="52.5" fill="#00FFFF"/><rect x="714.2" y="662.1" width="5.1" height="49.5" fill="#00FFFF"/><rect x="723.9" y="672.3" width="3.7" height="39.3" fill="none" stroke="#F04040" stroke-width="1.4"/><rect x="732.2" y="658.1" width="5.1" height="53.5" fill="#00FFFF"/><rect x="741.2" y="674.6" width="5.1" height="37" fill="#00FFFF"/><rect x="750.2" y="677.2" width="5.1" height="34.4" fill="#00FFFF"/><rect x="759.2" y="674.6" width="5.1" height="37" fill="#00FFFF"/><rect x="768.9" y="676.5" width="3.7" height="35.1" fill="none" stroke="#F04040" stroke-width="1.4"/><rect x="777.9" y="670.9" width="3.7" height="40.7" fill="none" stroke="#F04040" stroke-width="1.4"/><rect x="786.2" y="677.2" width="5.1" height="34.4" fill="#00FFFF"/><rect x="795.2" y="673.2" width="5.1" height="38.4" fill="#00FFFF"/><rect x="804.2" y="675.2" width="5.1" height="36.4" fill="#00FFFF"/><rect x="813.9" y="675.3" width="3.7" height="36.3" fill="none" stroke="#F04040" stroke-width="1.4"/><rect x="822.2" y="665.1" width="5.1" height="46.5" fill="#00FFFF"/><rect x="831.9" y="679.9" width="3.7" height="31.7" fill="none" stroke="#F04040" stroke-width="1.4"/><rect x="840.9" y="674.9" width="3.7" height="36.7" fill="none" stroke="#F04040" stroke-width="1.4"/><rect x="849.9" y="675.3" width="3.7" height="36.3" fill="none" stroke="#F04040" stroke-width="1.4"/><rect x="858.9" y="676.5" width="3.7" height="35.1" fill="none" stroke="#F04040" stroke-width="1.4"/><rect x="867.2" y="678.8" width="5.1" height="32.8" fill="#00FFFF"/><rect x="876.9" y="677.9" width="3.7" height="33.7" fill="none" stroke="#F04040" stroke-width="1.4"/><rect x="885.2" y="677.2" width="5.1" height="34.4" fill="#00FFFF"/><rect x="894.2" y="677.2" width="5.1" height="34.4" fill="#00FFFF"/><rect x="903.9" y="666.2" width="3.7" height="45.4" fill="none" stroke="#F04040" stroke-width="1.4"/><rect x="912.2" y="670.2" width="5.1" height="41.4" fill="#00FFFF"/><rect x="921.9" y="654.2" width="3.7" height="57.4" fill="none" stroke="#F04040" stroke-width="1.4"/><rect x="930.2" y="673.2" width="5.1" height="38.4" fill="#00FFFF"/><rect x="939.9" y="673.9" width="3.7" height="37.7" fill="none" stroke="#F04040" stroke-width="1.4"/><rect x="948.2" y="674.6" width="5.1" height="37" fill="#00FFFF"/><rect x="957.9" y="678.3" width="3.7" height="33.3" fill="none" stroke="#F04040" stroke-width="1.4"/><rect x="966.2" y="678.8" width="5.1" height="32.8" fill="#00FFFF"/><rect x="975.2" y="674.6" width="5.1" height="37" fill="#00FFFF"/><rect x="984.9" y="673.9" width="3.7" height="37.7" fill="none" stroke="#F04040" stroke-width="1.4"/><rect x="993.9" y="675.9" width="3.7" height="35.7" fill="none" stroke="#F04040" stroke-width="1.4"/><rect x="1002.9" y="658.8" width="3.7" height="52.8" fill="none" stroke="#F04040" stroke-width="1.4"/><rect x="1011.9" y="664.8" width="3.7" height="46.8" fill="none" stroke="#F04040" stroke-width="1.4"/><rect x="1020.9" y="672.9" width="3.7" height="38.7" fill="none" stroke="#F04040" stroke-width="1.4"/><rect x="1029.2" y="674.6" width="5.1" height="37" fill="#00FFFF"/><rect x="1039" y="672.9" width="3.7" height="38.7" fill="none" stroke="#F04040" stroke-width="1.4"/><rect x="1048" y="669.8" width="3.7" height="41.8" fill="none" stroke="#F04040" stroke-width="1.4"/><rect x="1057" y="660.2" width="3.7" height="51.4" fill="none" stroke="#F04040" stroke-width="1.4"/><rect x="1065.2" y="665.5" width="5.1" height="46.1" fill="#00FFFF"/><rect x="1074.2" y="668.1" width="5.1" height="43.5" fill="#00FFFF"/><rect x="1083.2" y="662.5" width="5.1" height="49.1" fill="#00FFFF"/><rect x="1093" y="661.8" width="3.7" height="49.8" fill="none" stroke="#F04040" stroke-width="1.4"/><rect x="1102" y="666.8" width="3.7" height="44.8" fill="none" stroke="#F04040" stroke-width="1.4"/><rect x="1111" y="655.8" width="3.7" height="55.8" fill="none" stroke="#F04040" stroke-width="1.4"/><rect x="1120" y="636.4" width="3.7" height="75.2" fill="none" stroke="#F04040" stroke-width="1.4"/><rect x="1129" y="657.2" width="3.7" height="54.4" fill="none" stroke="#F04040" stroke-width="1.4"/><rect x="1138" y="651.4" width="3.7" height="60.2" fill="none" stroke="#F04040" stroke-width="1.4"/><rect x="1146.2" y="652.1" width="5.1" height="59.5" fill="#00FFFF"/><rect x="1155.2" y="653.7" width="5.1" height="57.9" fill="#00FFFF"/><rect x="1165" y="663.2" width="3.7" height="48.4" fill="none" stroke="#F04040" stroke-width="1.4"/><rect x="1173.2" y="656.5" width="5.1" height="55.1" fill="#00FFFF"/><rect x="1182.2" y="655.1" width="5.1" height="56.5" fill="#00FFFF"/><rect x="1192" y="669.2" width="3.7" height="42.4" fill="none" stroke="#F04040" stroke-width="1.4"/><rect x="1201" y="670.9" width="3.7" height="40.7" fill="none" stroke="#F04040" stroke-width="1.4"/><rect x="1210" y="666.2" width="3.7" height="45.4" fill="none" stroke="#F04040" stroke-width="1.4"/><rect x="1218.2" y="668.5" width="5.1" height="43.1" fill="#00FFFF"/><rect x="1228" y="670.9" width="3.7" height="40.7" fill="none" stroke="#F04040" stroke-width="1.4"/><rect x="1236.2" y="669.7" width="5.1" height="41.9" fill="#00FFFF"/><rect x="1245.2" y="664.1" width="5.1" height="47.5" fill="#00FFFF"/><rect x="1255" y="678.3" width="3.7" height="33.3" fill="none" stroke="#F04040" stroke-width="1.4"/><rect x="1263.2" y="681.8" width="5.1" height="29.8" fill="#00FFFF"/><rect x="1273" y="679.9" width="3.7" height="31.7" fill="none" stroke="#F04040" stroke-width="1.4"/><rect x="1282" y="679.9" width="3.7" height="31.7" fill="none" stroke="#F04040" stroke-width="1.4"/><rect x="1291" y="678.3" width="3.7" height="33.3" fill="none" stroke="#F04040" stroke-width="1.4"/><rect x="1300" y="672.3" width="3.7" height="39.3" fill="none" stroke="#F04040" stroke-width="1.4"/><rect x="1309" y="660.2" width="3.7" height="51.4" fill="none" stroke="#F04040" stroke-width="1.4"/><rect x="1317.2" y="673.8" width="5.1" height="37.8" fill="#00FFFF"/><rect x="1326.2" y="673.8" width="5.1" height="37.8" fill="#00FFFF"/><rect x="1335.2" y="680.6" width="5.1" height="31" fill="#00FFFF"/><rect x="1344.2" y="673.2" width="5.1" height="38.4" fill="#00FFFF"/><rect x="1354" y="678.3" width="3.7" height="33.3" fill="none" stroke="#F04040" stroke-width="1.4"/><rect x="1363" y="682.9" width="3.7" height="28.7" fill="none" stroke="#F04040" stroke-width="1.4"/><rect x="1371.2" y="680.2" width="5.1" height="31.4" fill="#00FFFF"/><rect x="1380.2" y="680.2" width="5.1" height="31.4" fill="#00FFFF"/><rect x="1390" y="678.3" width="3.7" height="33.3" fill="none" stroke="#F04040" stroke-width="1.4"/><rect x="1399" y="669.2" width="3.7" height="42.4" fill="none" stroke="#F04040" stroke-width="1.4"/><rect x="1407.2" y="670.2" width="5.1" height="41.4" fill="#00FFFF"/><rect x="1416.2" y="671.6" width="5.1" height="40" fill="#00FFFF"/><rect x="1425.2" y="672.2" width="5.1" height="39.4" fill="#00FFFF"/><rect x="1435" y="672.3" width="3.7" height="39.3" fill="none" stroke="#F04040" stroke-width="1.4"/></g>
<polyline points="6.1,589.4 23.4,593.9 50.8,593.9 69.1,599 87.3,607.1 96.5,611.2 105.6,613.2 114.8,617.3 132,623.8 141.2,622.3 150.3,621.3 159.5,618.9 168.6,616.3 185.9,612.2 204.1,611.8 213.3,610.6 231.6,610.6 248.8,615.6 258,617.9 267.1,621.3 276.3,625 284.4,627 293.5,629.5 302.8,629.5 316.4,629.9 329.8,633.9 347.9,638.6 365.8,643.7 374.9,644.7 392.8,650.2 410.9,651.4 428.9,652.8 437.9,654.4 455.8,655.9 464.9,658.3 482.8,658.3 500.8,659.9 518.9,662 536.8,663 554.9,663.4 563.8,662 572.8,660.9 580,659.1 590.8,660.1 608.9,663.1 617.9,662.1 626.9,659.5 635.9,657.1 644.7,655.5 653.7,655.1 662.8,657.1 671.8,658.7 680.8,658.7 689.8,657.1 698.8,654.7 712.3,655.1 725.7,661.1 734.7,662.1 752.7,664.5 770.8,666.1 788.8,670.8 806.7,673.2 824.7,674.2 842.7,673.8 860.8,673.8 869.8,675.8 896.9,675.8 905.9,673.2 923.7,671.8 941.7,672.2 959.8,671.8 977.8,672.2 995.9,672.2 1013.7,671.8 1040.7,671.8 1049.8,670.2 1058.8,669.1 1076.8,668.1 1085.6,665.5 1094.6,667.5 1103.7,667.5 1112.7,666.1 1121.7,662.1 1130.7,660.1 1139.7,658.7 1148.8,656.5 1157.8,655.1 1175.8,655.1 1184.8,654.1 1193.9,655.1 1211.7,660.1 1229.7,663.5 1247.8,666.1 1265.8,671.2 1283.8,673.2 1301.7,674.6 1310.7,673.2 1328.7,673.8 1346.8,675.2 1364.8,675.2 1382.6,675.2 1391.7,676.6 1409.7,676.6 1427.7,675.2 1436.8,675.2" fill="none" stroke="#ECEC00" stroke-width="1.35" stroke-linejoin="round"/>
<polyline points="6.1,578.7 14.2,584.4 23.4,580.1 32.5,583.7 41.6,595.9 50.8,607.1 59.9,610.2 69.1,617.3 78.2,621.3 87.3,618.3 96.5,617.9 105.6,619.3 114.8,619.9 123.9,624.4 132,628.4 141.2,628.4 150.3,623.4 159.5,618.3 168.6,612.2 176.7,603 185.9,597.4 195,602 204.1,605.1 213.3,608.1 222.4,617.3 230.5,625.4 239.7,625.4 248.8,627.4 258,628.8 267.1,627.4 276.3,627.4 284.4,628.4 293.5,632.5 302.8,632.5 311.7,634.5 320.9,637.6 329.8,641.6 338.8,639 347.9,643.7 356.8,645.7 365.8,649.8 374.9,647.7 383.8,651.8 392.8,655.9 401.9,655.3 410.9,652.4 419.8,653.8 428.9,653.4 437.9,654.8 446.8,655.9 455.8,656.9 464.9,663 473.8,663 482.8,663 491.9,663 500.8,660.9 509.8,662 518.9,659.9 527.9,662 536.8,663 545.9,664.6 554.9,666 563.8,663 572.8,660.9 581.8,658.7 590.8,656.5 599.8,657.1 608.9,662.7 617.9,662.7 626.9,660.1 635.9,657.1 644.7,652.5 653.7,649.1 662.8,651.1 671.8,657.1 680.8,661.1 689.8,659.5 698.8,661.1 707.9,659.1 716.9,658.7 725.7,661.1 734.7,663.1 743.7,666.1 752.7,668.7 761.8,672.2 770.8,673.8 779.8,675.2 788.8,676.6 797.8,674.6 806.7,675.2 815.7,673.8 824.7,674.2 833.7,674.2 842.7,673.8 851.7,673.8 860.8,674.2 869.8,675.8 880,676.2 896.9,676.6 905.9,673.8 914.9,672.2 923.7,669.1 932.7,667.1 941.7,667.1 950.8,668.5 959.8,670.8 968.8,674.6 977.8,676.6 986.8,676.6 995.9,676.2 1004.7,672.2 1013.7,669.1 1022.7,669.1 1031.7,669.1 1040.7,667.5 1049.8,670.8 1058.8,668.1 1067.8,667.1 1076.8,667.5 1085.6,664.1 1094.6,663.1 1103.7,665.1 1112.7,663.1 1121.7,655.7 1130.7,655.1 1139.7,652.1 1148.8,650.7 1157.8,649.1 1166.8,654.7 1175.8,655.1 1184.8,654.5 1193.9,660.1 1202.9,663.1 1211.7,665.1 1220.7,666.7 1229.7,669.1 1238.8,669.1 1247.8,667.1 1256.8,670.8 1265.8,673.8 1274.8,675.2 1283.8,676.6 1292.7,679.2 1301.7,677.6 1310.7,673.2 1319.7,672.2 1328.7,670.8 1337.8,671.6 1346.8,672.2 1355.8,676.2 1364.8,677.8 1373.8,679.2 1382.6,679.6 1391.7,679.2 1400.7,677.8 1409.7,675.2 1418.7,673.2 1427.7,672.2 1434.5,670.8 1436.8,672.2" fill="none" stroke="#E0E0E0" stroke-width="1.25" stroke-linejoin="round"/>
<polyline points="5.8,776.7 14.8,785.2 23.8,790.2 32.9,794.2 41.9,802.8 50.9,809.2 59.9,809.2 68.9,806.2 78,801.8 87,797.2 96,791.8 105,793.8 114,799.8 123,807.2 132.1,817.6 141.1,817.6 150.1,811.2 159.1,804.2 168.1,795.8 176.4,788.2 185.4,784.1 194.4,781.1 203.4,778.1 212.4,779.7 221.4,784.1 230.5,794.2 239.5,798.2 248.5,797.2 257.5,796.2 266.5,791.8 275.6,793.2 284.6,796.6 293.8,802.2 302.8,814.2 311.8,825.2 320.9,833.8 329.9,839.9 338.7,844.7 347.7,848.7 356.7,851.9 365.8,854.7 374.8,854.7 383.8,853.3 392.8,852.3 401.8,848.7 410.8,840.3 419.7,835.3 428.7,832.2 437.7,829.2 446.7,826.2 455.7,828.2 464.7,832.2 473.8,832.2 482.8,829.2 491.8,824.2 500.8,818.2 509.6,813.6 518.7,810.6 527.7,812.2 536.7,815.6 545.7,822.2 554.7,826.6 563.7,823.2 572.8,816.2 581.8,808.2 590.8,805.2 599.8,803.2 608.9,801.2 617.9,798.2 626.9,794.2 635.9,789.2 644.7,784.7 653.7,781.7 662.8,781.1 671.8,779.5 680.8,780.1 689.8,777.7 698.8,775.1 707.9,777.1 716.9,780.1 725.7,784.1 734.7,794.2 743.7,806.2 752.7,819.2 761.8,829.2 770.8,834.2 779.8,836.9 788.8,836.9 797.8,836.3 806.7,838.3 815.7,835.7 824.7,836.9 833.7,837.7 842.7,835.3 851.7,828.2 860.8,818.2 869.8,809.2 878.8,800.2 887.8,796.2 896.9,799.6 905.9,807.2 914.9,817.2 923.7,825.8 932.7,831.2 941.7,835.3 950.8,838.3 959.8,838.3 968.8,838.3 977.8,835.3 986.8,830.2 995.9,823.2 1004.7,813.2 1013.7,803.2 1022.7,795.2 1031.7,789.2 1040.7,782.5 1049.8,779.7 1058.8,778.7 1067.8,778.7 1076.8,780.1 1085.6,784.1 1094.6,784.5 1103.7,781.1 1112.7,777.1 1121.7,775.1 1130.7,773.7 1139.7,772.1 1148.8,770.1 1157.8,769.5 1166.8,769.5 1175.8,768.1 1184.8,774.1 1193.9,785.2 1202.9,794.2 1211.7,799.2 1220.7,808.2 1229.7,814.8 1238.8,825.2 1247.8,834.2 1256.8,840.3 1265.8,846.3 1274.8,850.3 1283.8,852.3 1292.7,847.3 1301.7,838.3 1310.7,827.6 1319.7,817.6 1328.7,812.2 1337.8,808.2 1346.8,808.6 1355.8,811.2 1364.8,814.8 1373.8,820.2 1382.6,824.2 1391.7,828.2 1400.7,825.2 1409.7,822.2 1418.7,822.2 1427.7,825.2 1436.8,823.6" fill="none" stroke="#ECEC00" stroke-width="1.25" stroke-linejoin="round"/>
<polyline points="5.8,793.2 14.8,801.2 23.8,799.2 32.9,804.2 41.9,819.8 50.9,823.8 59.9,809.8 68.9,799.8 78,792.2 87,787.2 96,782.1 105,794.2 114,813.2 123,823.2 132.1,836.3 141.1,819.2 150.1,800.2 159.1,789.2 168.1,779.1 176.4,774.1 185.4,773.7 194.4,775.1 203.4,775.7 212.4,781.1 221.4,792.2 230.5,813.2 239.5,804.2 248.5,796.2 257.5,794.2 266.5,784.1 275.6,794.2 284.6,805.2 293.8,812.2 302.8,833.2 311.8,845.3 320.9,850.3 329.9,852.3 338.7,854.9 347.7,856.7 356.7,858.7 365.8,861.3 374.8,853.3 383.8,850.3 392.8,850.3 401.8,842.3 410.8,822.2 419.7,825.2 428.7,829.2 437.7,822.2 446.7,820.2 455.7,833.2 464.7,840.3 473.8,833.2 482.8,823.2 491.8,814.2 500.8,806.2 509.6,803.6 518.7,805.2 527.7,816.2 536.7,822.2 545.7,836.3 554.7,838.3 563.7,816.2 572.8,803.2 581.8,793.2 590.8,797.6 599.8,799.6 608.9,798.2 617.9,795.2 626.9,787.2 635.9,778.5 644.7,772.7 653.7,776.1 662.8,779.5 671.8,776.1 680.8,780.5 689.8,773.1 698.8,769.1 707.9,779.1 716.9,787.2 725.7,791.2 734.7,812.2 743.7,828.2 752.7,840.3 761.8,847.3 770.8,849.3 779.8,841.3 788.8,837.3 797.8,835.7 806.7,841.3 815.7,831.2 824.7,839.3 833.7,839.9 842.7,828.2 851.7,814.8 860.8,797.2 869.8,788.2 878.8,784.1 887.8,790.2 896.9,804.2 905.9,822.2 914.9,836.3 923.7,841.3 932.7,844.7 941.7,842.7 950.8,846.3 959.8,839.9 968.8,835.3 977.8,826.2 986.8,818.2 995.9,803.2 1004.7,789.2 1013.7,782.1 1022.7,778.1 1031.7,773.7 1040.7,769.1 1049.8,777.1 1058.8,774.1 1067.8,778.1 1076.8,783.1 1085.6,793.8 1094.6,783.7 1103.7,775.1 1112.7,769.1 1121.7,772.5 1130.7,772.5 1139.7,768.1 1148.8,766.1 1157.8,768.1 1166.8,767.1 1175.8,768.1 1184.8,787.2 1193.9,806.2 1202.9,813.2 1211.7,813.2 1220.7,824.2 1229.7,828.2 1238.8,843.3 1247.8,851.9 1256.8,853.9 1265.8,859.3 1274.8,859.3 1283.8,852.3 1292.7,838.3 1301.7,820.2 1310.7,806.2 1319.7,799.6 1328.7,799.2 1337.8,799.6 1346.8,810.2 1355.8,817.6 1364.8,822.2 1373.8,829.6 1382.6,835.9 1391.7,832.2 1400.7,819.6 1409.7,817.6 1418.7,823.2 1427.7,832.6 1436.8,822.2" fill="none" stroke="#E0E0E0" stroke-width="1.25" stroke-linejoin="round"/>
<polyline points="5.8,824.6 14.8,830.8 23.8,819.2 32.9,824.6 41.9,855.3 50.9,851.9 59.9,809.8 68.9,787.2 78,773.1 87,766.7 96,763.1 105,796.2 114,838.3 123,853.9 132.1,874.7 141.1,819.2 150.1,777.1 159.1,759.1 168.1,747.1 176.4,743.7 185.4,754.1 194.4,763.1 203.4,767.5 212.4,783.1 221.4,815.2 230.5,850.3 239.5,814.2 248.5,793.2 257.5,790.2 266.5,766.7 275.6,796.2 284.6,823.2 293.8,834.2 302.8,868.3 311.8,884.7 316.1,886.4 323.1,886.4 329.9,879.3 338.7,876.3 347.7,869.9 356.7,869.9 365.8,874.3 374.8,852.3 383.8,846.3 392.8,847.9 401.8,826.2 410.8,786.2 419.7,804.2 428.7,822.2 437.7,807.2 446.7,809.2 455.7,838.3 464.7,856.3 473.8,830.2 482.8,810.2 491.8,794.2 500.8,781.5 509.6,784.1 518.7,794.2 527.7,822.2 536.7,837.3 545.7,865.3 554.7,858.3 563.7,796.2 572.8,774.1 581.8,763.7 590.8,784.1 599.8,790.6 608.9,791.8 617.9,786.2 626.9,767.1 635.9,757.1 644.7,751.7 653.7,766.1 662.8,778.1 671.8,772.5 680.8,781.7 689.8,765.1 698.8,759.1 707.9,783.1 716.9,803.2 725.7,808.2 734.7,851.3 743.7,870.3 752.7,884.3 761.8,886.4 770.8,874.3 779.8,851.3 788.8,838.3 797.8,832.8 806.7,849.3 815.7,820.2 824.7,846.3 833.7,844.3 842.7,816.2 851.7,786.2 860.8,758.1 869.8,750.1 878.8,753.1 887.8,774.1 896.9,812.2 905.9,846.3 914.9,877.3 923.7,873.3 932.7,870.9 941.7,859.3 950.8,859.3 959.8,841.3 968.8,834.2 977.8,814.2 986.8,796.2 995.9,770.1 1004.7,747.1 1013.7,745.5 1022.7,746.7 1031.7,746.7 1040.7,746.7 1049.8,769.1 1058.8,768.1 1067.8,778.7 1076.8,790.2 1085.6,810.2 1094.6,782.1 1103.7,763.1 1112.7,754.1 1121.7,766.1 1130.7,768.1 1139.7,758.7 1148.8,758.7 1157.8,768.1 1166.8,760.1 1175.8,764.1 1184.8,808.2 1193.9,847.3 1202.9,848.9 1211.7,838.3 1220.7,857.9 1229.7,856.7 1238.8,876.3 1247.8,885.4 1256.8,880.7 1265.8,882.7 1274.8,876.3 1283.8,854.3 1292.7,824.2 1301.7,788.2 1310.7,762.5 1319.7,763.7 1328.7,774.1 1337.8,782.1 1346.8,810.2 1355.8,826.2 1364.8,833.6 1373.8,847.3 1382.6,855.3 1391.7,840.3 1400.7,810.2 1409.7,806.8 1418.7,826.2 1427.7,845.3 1436.8,814.2" fill="none" stroke="#FF00FF" stroke-width="1.25" stroke-linejoin="round"/>
<path d="M186.2 43.2 L200.3 47.4 M191 40.4 L186.2 43.2 L189.2 47.8" stroke="#E0E0E0" stroke-width="1.2" fill="none"/>
<path d="M923.9 511.5 L941.5 510 M929.5 507.5 L923.9 511.5 L929.5 515.5" stroke="#E0E0E0" stroke-width="1.2" fill="none"/>
<g fill="#E0E0E0" font-family="'Liberation Sans', 'Noto Sans CJK SC', sans-serif" font-size="18.8">
<text x="2.3" y="31.3" letter-spacing="-0.9">上证指数</text>
<text x="80" y="31.3" letter-spacing="-0.7">日线</text>
<text x="121.1" y="31.3" letter-spacing="-0.9">前复权</text>
</g>
<g font-family="'Liberation Sans', sans-serif" style="white-space:pre" stroke="#000" stroke-width="0.3">
<text x="75.3" y="30.3" fill="#FFFFFF" font-size="17.6" letter-spacing="0" text-anchor="start">(</text>
<text x="117.3" y="30.3" fill="#FFFFFF" font-size="17.6" letter-spacing="0" text-anchor="start">.</text>
<text x="175.6" y="30.3" fill="#FFFFFF" font-size="17.6" letter-spacing="0" text-anchor="start">)</text>
<text x="210.4" y="30.3" fill="#FFFFFF" font-size="17.6" letter-spacing="0" text-anchor="start">EXPMA(12,50)</text>
<text x="335" y="30.3" fill="#FFFFFF" font-size="17.6" letter-spacing="0" text-anchor="start">EXP1:</text>
<text x="456.5" y="30.3" fill="#FFFFFF" font-size="17.6" letter-spacing="0.45" text-anchor="end">2951.94</text>
<text x="463" y="30.3" fill="#FFFF00" font-size="17.6" letter-spacing="0" text-anchor="start">EXP2:</text>
<text x="585.5" y="30.3" fill="#FFFF00" font-size="17.6" letter-spacing="0.45" text-anchor="end">2946.75</text>
<text x="207" y="55.8" fill="#FFFFFF" font-size="17.6" letter-spacing="0.2" text-anchor="start">3288.45</text>
<text x="943.6" y="520" fill="#FFFFFF" font-size="17.6" letter-spacing="0.35" text-anchor="start">2733.92</text>
<text x="1054.5" y="416.2" fill="#FFFFFF" font-size="17.6" letter-spacing="0.3" text-anchor="start">2870.49 - 2874.10</text>
<text x="2.4" y="557" fill="#FFFFFF" font-size="17.6" letter-spacing="0" text-anchor="start">VOLUME:</text>
<text x="85.3" y="557" fill="#FFFFFF" font-size="17.6" letter-spacing="0.55" text-anchor="start">159907376.00</text>
<text x="211" y="557" fill="#FFFFFF" font-size="17.6" letter-spacing="0" text-anchor="start">MA5:</text>
<text x="256" y="557" fill="#FFFFFF" font-size="17.6" letter-spacing="0.55" text-anchor="start">164023712.00</text>
<text x="382.5" y="557" fill="#FFFF00" font-size="17.6" letter-spacing="0" text-anchor="start">MA10:</text>
<text x="438" y="557" fill="#FFFF00" font-size="17.6" letter-spacing="0.55" text-anchor="start">145728960.00</text>
<text x="2.2" y="732.2" fill="#FFFFFF" font-size="17.6" letter-spacing="0.3" text-anchor="start">KDJ(9,3,3)</text>
<text x="96.5" y="732.2" fill="#FFFFFF" font-size="17.6" letter-spacing="0" text-anchor="start">K:</text>
<text x="117.5" y="732.2" fill="#FFFFFF" font-size="17.6" letter-spacing="0.45" text-anchor="start">44.50</text>
<text x="171.2" y="732.2" fill="#FFFF00" font-size="17.6" letter-spacing="0" text-anchor="start">D:</text>
<text x="194.5" y="732.2" fill="#FFFF00" font-size="17.6" letter-spacing="0.45" text-anchor="start">41.39</text>
<text x="248" y="732.2" fill="#FF00FF" font-size="17.6" letter-spacing="0" text-anchor="start">J:</text>
<text x="265.5" y="732.2" fill="#FF00FF" font-size="17.6" letter-spacing="0.45" text-anchor="start">50.71</text>
<text x="1489.8" y="569.5" fill="#C00000" font-size="17.6" letter-spacing="0" text-anchor="start">60</text>
<rect x="1469" y="558.7" width="30" height="25.6" fill="#900000" stroke="none"/>
<rect x="1469" y="560" width="30" height="22.8" fill="#0000FF" stroke="none"/>
<text x="1469.6" y="577" fill="#FFFFFF" font-size="18.3" letter-spacing="0.9" text-anchor="start">5173</text>
<text x="1489.5" y="618" fill="#C00000" font-size="17.6" letter-spacing="0" text-anchor="start">40</text>
<text x="1489.5" y="668" fill="#C00000" font-size="17.6" letter-spacing="0" text-anchor="start">20</text>
<text x="1472" y="709.5" fill="#C00000" font-size="17.6" letter-spacing="0" text-anchor="start">X17</text>
<text x="1484.8" y="765.7" fill="#C00000" font-size="17.6" letter-spacing="0" text-anchor="start">100</text>
<text x="1494.5" y="788" fill="#C00000" font-size="17.6" letter-spacing="0" text-anchor="start">80</text>
<text x="1494.5" y="821" fill="#C00000" font-size="17.6" letter-spacing="0" text-anchor="start">50</text>
<text x="1494.5" y="854" fill="#C00000" font-size="17.6" letter-spacing="0" text-anchor="start">20</text>
</g>
</svg>
<div id="left"></div>
</body></html>
